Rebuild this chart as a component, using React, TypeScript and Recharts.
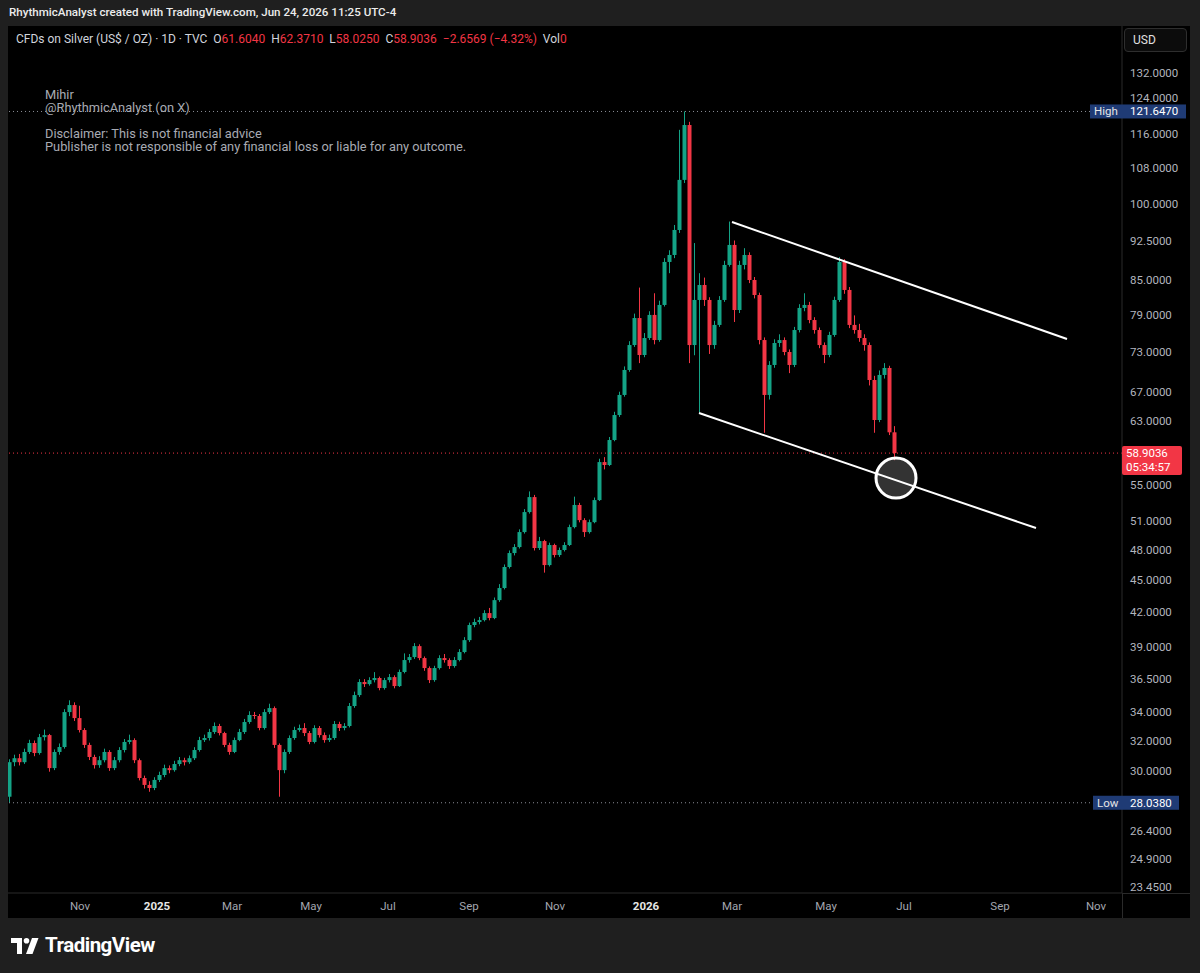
import React from 'react';
import { ComposedChart, Bar, XAxis, YAxis, ReferenceLine, ReferenceDot } from 'recharts';

// Silver CFD, roughly two trading days per candle, Oct 2024 -> Jun 24 2026
const firstOpen = 28.4;

const closes = [
    30.56, 30.82, 30.56, 31.23, 31.83, 31.16, 32.23, 32.37, 30.18, 31.23,
    31.56, 33.99, 34.5, 33.56, 32.72, 31.7, 30.9, 30.37, 30.69, 31.23,
    30.18, 30.69, 31.36, 31.9, 32.03, 30.69, 29.55, 29.12, 28.93, 29.43,
    29.74, 30.18, 30.05, 30.44, 30.69, 30.56, 30.82, 31.36, 32.03, 32.17,
    32.58, 33.0, 32.51, 31.7, 31.23, 32.03, 32.58, 33.28, 33.78, 33.71,
    32.86, 33.99, 34.28, 31.7, 30.05, 31.23, 32.17, 32.72, 32.86, 32.51,
    31.9, 32.86, 32.37, 32.03, 32.17, 33.14, 32.86, 33.0, 34.43, 35.24,
    36.23, 36.07, 36.38, 36.54, 35.77, 36.38, 36.61, 35.92, 37.01, 37.96,
    38.2, 39.1, 38.12, 37.32, 36.38, 37.32, 38.12, 37.96, 37.48, 37.96,
    38.61, 39.6, 40.89, 41.15, 41.32, 41.94, 41.5, 43.11, 44.23, 46.25,
    47.64, 48.25, 49.81, 51.97, 53.65, 48.15, 48.87, 46.44, 48.46, 47.44,
    47.95, 48.46, 50.34, 52.76, 51.09, 49.81, 50.87, 53.31, 57.79, 57.43,
    60.56, 63.86, 66.64, 70.27, 74.09, 78.46, 72.54, 75.2, 78.98, 74.88,
    80.67, 88.38, 89.7, 94.59, 105.2, 118.2, 74.09, 81.53, 84.16, 81.53,
    74.09, 77.32, 81.53, 87.82, 91.63, 79.81, 87.82, 89.7, 85.06, 82.39,
    74.88, 66.64, 71.02, 74.41, 74.88, 73.0, 71.02, 76.49, 80.16, 80.67,
    78.13, 76.49, 74.09, 72.54, 75.69, 81.53, 88.38, 83.28, 77.32, 76.49,
    75.2, 74.09, 68.79, 63.19, 69.53, 70.57, 61.56, 58.9036,
];

const highs = [
    30.75, 31.05, 31.1, 31.45, 32.05, 32.0, 32.45, 32.75, 32.45, 31.4,
    31.8, 34.2, 34.85, 34.7, 34.45, 32.85, 31.85, 31.05, 30.95, 31.45,
    31.35, 30.9, 31.55, 32.1, 32.4, 32.15, 30.8, 29.7, 29.35, 29.6,
    29.95, 30.4, 30.35, 30.65, 30.9, 30.85, 31.0, 31.55, 32.25, 32.4,
    32.8, 33.25, 33.15, 32.6, 31.85, 32.2, 32.8, 33.5, 34.05, 34.0,
    33.85, 34.2, 34.6, 34.4, 31.8, 31.4, 32.35, 32.95, 33.1, 33.2,
    32.65, 33.05, 33.0, 32.55, 32.4, 33.35, 33.3, 33.2, 34.65, 35.5,
    36.45, 36.45, 36.6, 37.0, 36.65, 36.55, 36.85, 36.75, 37.2, 38.5,
    38.45, 39.35, 39.25, 38.25, 37.45, 37.5, 38.35, 38.45, 38.1, 38.2,
    38.85, 39.85, 41.1, 41.45, 41.6, 42.2, 42.4, 43.35, 44.6, 46.5,
    47.9, 48.55, 50.1, 52.3, 54.3, 53.9, 49.3, 49.0, 48.7, 48.6,
    48.2, 48.75, 50.6, 53.7, 53.0, 51.3, 51.15, 53.6, 58.2, 58.4,
    60.95, 64.3, 67.1, 70.8, 74.7, 79.2, 83.7, 76.0, 79.6, 82.7,
    81.4, 89.1, 90.6, 95.6, 117.0, 121.647, 119.0, 92.0, 86.3, 85.5,
    82.0, 78.0, 82.2, 88.6, 96.3, 92.5, 88.6, 91.0, 90.2, 85.6,
    82.8, 75.3, 71.6, 75.0, 75.8, 75.3, 73.4, 77.0, 80.8, 82.7,
    81.2, 78.6, 76.9, 74.5, 76.2, 82.1, 89.3, 88.9, 83.8, 78.9,
    77.5, 75.8, 74.5, 69.4, 70.2, 71.3, 70.9, 62.371,
];

const lows = [
    28.04, 30.3, 30.35, 30.45, 31.1, 30.95, 31.05, 32.0, 29.95, 30.05,
    31.05, 31.45, 33.7, 33.35, 32.55, 31.5, 30.7, 30.15, 30.2, 30.55,
    30.0, 30.05, 30.55, 31.2, 31.75, 30.5, 29.4, 28.9, 28.7, 28.8,
    29.3, 29.6, 29.85, 29.95, 30.3, 30.35, 30.45, 30.7, 31.25, 31.9,
    32.0, 32.45, 32.35, 31.55, 31.05, 31.15, 31.95, 32.45, 33.15, 33.5,
    32.7, 32.75, 33.85, 31.5, 28.4, 29.85, 31.1, 32.05, 32.6, 32.3,
    31.75, 31.8, 32.2, 31.85, 31.9, 32.05, 32.65, 32.7, 32.9, 34.3,
    35.1, 35.85, 35.95, 36.2, 35.6, 35.65, 36.2, 35.75, 35.85, 36.9,
    37.75, 38.05, 37.95, 37.1, 36.15, 36.25, 37.2, 37.75, 37.25, 37.35,
    37.85, 38.5, 39.45, 40.7, 40.95, 41.2, 41.3, 41.4, 42.95, 44.1,
    46.1, 47.4, 48.1, 49.65, 51.8, 47.9, 47.95, 45.7, 46.3, 47.2,
    47.25, 47.8, 48.35, 50.2, 50.85, 49.3, 49.65, 50.75, 53.2, 56.9,
    57.3, 60.4, 63.6, 66.4, 70.0, 73.8, 71.3, 72.2, 74.9, 74.2,
    74.6, 80.4, 86.3, 89.1, 94.0, 104.5, 71.3, 72.5, 64.2, 80.5,
    72.7, 73.5, 77.0, 81.2, 87.5, 77.8, 79.3, 87.0, 84.5, 81.8,
    74.2, 61.5, 66.0, 70.6, 73.8, 72.5, 69.8, 70.7, 76.1, 79.6,
    77.6, 75.9, 73.6, 71.3, 72.2, 75.4, 81.2, 82.6, 76.8, 75.9,
    74.6, 73.2, 68.0, 61.5, 62.9, 69.0, 61.2, 58.025,
];

const priceTicks = [132, 124, 116, 108, 100, 92.5, 85, 79, 73, 67, 63, 55, 51, 48, 45, 42, 39, 36.5, 34, 32, 30, 26.4, 24.9, 23.45];
const highPrice = 121.647;
const lowPrice = 28.038;
const lastPrice = 58.9036;

// month labels sit on the candle index axis
const monthTicks = [14, 29.4, 44.4, 60.2, 75.6, 91.8, 109, 127.2, 144.4, 163.2, 178.8, 198, 217.2];
const monthLabels = ['Nov', '2025', 'Mar', 'May', 'Jul', 'Sep', 'Nov', '2026', 'Mar', 'May', 'Jul', 'Sep', 'Nov'];

// hand drawn channel + marker (candle index, price)
const upperChannel = [{ x: 144.4, y: 96.2 }, { x: 211.4, y: 75.05 }];
const lowerChannel = [{ x: 137.8, y: 64.13 }, { x: 205.2, y: 50.24 }];
const marker = { x: 177.2, y: 55.86 };

const UP = '#14a386';
const DOWN = '#f23645';
const NAVY = '#1f3b75';
const FONT = 'Roboto, "Noto Sans", sans-serif';

const data = closes.map((c, i) => ({
    i,
    o: i === 0 ? firstOpen : closes[i - 1],
    c,
    h: highs[i],
    l: lows[i],
    range: [lows[i], highs[i]],
}));

const Candle = (props: any) => {
    const { x, y, width, height, payload } = props;
    if (x == null || !payload) return null;
    const top0 = Math.min(y, y + height);
    const span = Math.abs(height);
    const { o, c, h, l } = payload;
    const lh = Math.log(h);
    const ll = Math.log(l);
    // position inside the high-low range, log axis
    const py = (p: number) => top0 + (lh - ll > 0 ? (span * (lh - Math.log(p))) / (lh - ll) : 0);
    const color = c >= o ? UP : DOWN;
    const cx = x + width / 2;
    const bt = py(Math.max(o, c));
    const bb = py(Math.min(o, c));
    return (
        <g>
            <line x1={cx} x2={cx} y1={top0} y2={top0 + span} stroke={color} strokeWidth={1} />
            <rect x={x} y={bt} width={width} height={Math.max(1, bb - bt)} fill={color} />
        </g>
    );
};

const PriceTick = (props: any) => {
    const { x, y, payload } = props;
    const v = payload.value;
    const txt = { fontFamily: FONT, fontSize: 11.5 };
    if (v === highPrice) {
        return (
            <g>
                <rect x={x - 40} y={y - 7} width={96} height={14} fill={NAVY} />
                <text x={x - 36} y={y + 4} fill="#e6e6e6" style={txt}>High</text>
                <text x={x} y={y + 4} fill="#ffffff" style={txt}>{v.toFixed(4)}</text>
            </g>
        );
    }
    if (v === lowPrice) {
        return (
            <g>
                <rect x={x - 37} y={y - 7} width={86} height={14} fill={NAVY} />
                <text x={x - 33} y={y + 4} fill="#e6e6e6" style={txt}>Low</text>
                <text x={x} y={y + 4} fill="#ffffff" style={txt}>{v.toFixed(4)}</text>
            </g>
        );
    }
    if (v === lastPrice) {
        return (
            <g>
                <rect x={x - 8} y={y - 7} width={60} height={29} rx={2} fill={DOWN} />
                <text x={x - 4} y={y + 4} fill="#ffffff" style={txt}>{v.toFixed(4)}</text>
                <text x={x - 4} y={y + 18} fill="#ffffff" style={txt}>05:34:57</text>
            </g>
        );
    }
    // 124 sits right above the High badge, lift it clear
    const lift = v === 124 ? -4 : 0;
    return (
        <text x={x} y={y + 4 + lift} fill="#b2b5be" style={txt}>{v.toFixed(4)}</text>
    );
};

const MonthTick = (props: any) => {
    const { x, y, payload } = props;
    const label = monthLabels[monthTicks.indexOf(payload.value)] ?? '';
    const isYear = /^\d{4}$/.test(label);
    return (
        <text
            x={x}
            y={y + 17}
            textAnchor="middle"
            fill={isYear ? '#e6e6e6' : '#a3a6af'}
            style={{ fontFamily: FONT, fontSize: 11.5, fontWeight: isYear ? 700 : 400 }}
        >
            {label}
        </text>
    );
};

const red = { color: '#f23645' };

export default function App() {
    return (
        <div
            style={{
                position: 'absolute',
                left: 0,
                top: 0,
                width: 1200,
                height: 973,
                background: '#1f1f1f',
                fontFamily: FONT,
                overflow: 'hidden',
            }}
        >
            <div style={{ position: 'absolute', left: 9, top: 4, fontSize: 11.6, fontWeight: 500, color: '#ececec', lineHeight: '16px' }}>
                RhythmicAnalyst created with TradingView.com, Jun 24, 2026 11:25 UTC-4
            </div>

            <div style={{ position: 'absolute', left: 8, top: 26, width: 1182, height: 892, background: '#000' }}>
                <ComposedChart width={1182} height={892} data={data} margin={{ top: 0, right: 0, bottom: 0, left: 0 }}>
                    <XAxis
                        dataKey="i"
                        type="number"
                        domain={[-0.4, 222.4]}
                        allowDataOverflow
                        ticks={monthTicks}
                        interval={0}
                        height={25}
                        tickSize={0}
                        tickMargin={0}
                        tick={<MonthTick />}
                        axisLine={{ stroke: '#2a2a2a' }}
                        tickLine={false}
                    />
                    <YAxis
                        orientation="right"
                        scale="log"
                        type="number"
                        domain={[23.15, 145.85]}
                        allowDataOverflow
                        ticks={[...priceTicks, lastPrice, highPrice, lowPrice]}
                        interval={0}
                        width={68}
                        tickSize={0}
                        tickMargin={8}
                        tick={<PriceTick />}
                        axisLine={{ stroke: '#2a2a2a' }}
                        tickLine={false}
                    />
                    <ReferenceLine y={highPrice} stroke="#8a8d96" strokeDasharray="1 3" />
                    <ReferenceLine y={lowPrice} stroke="#8a8d96" strokeDasharray="1 3" />
                    <ReferenceLine y={lastPrice} stroke={DOWN} strokeDasharray="1 3" />
                    <Bar dataKey="range" barSize={4} shape={<Candle />} isAnimationActive={false} />
                    <ReferenceLine segment={upperChannel} stroke="#ffffff" strokeWidth={2} ifOverflow="visible" />
                    <ReferenceLine segment={lowerChannel} stroke="#ffffff" strokeWidth={2} ifOverflow="visible" />
                    <ReferenceDot
                        x={marker.x}
                        y={marker.y}
                        r={20}
                        fill="rgba(255,255,255,0.2)"
                        stroke="#ffffff"
                        strokeWidth={3}
                        ifOverflow="visible"
                    />
                </ComposedChart>

                {/* axis corner separators */}
                <div style={{ position: 'absolute', left: 1114, top: 867, width: 1, height: 25, background: '#2a2a2a' }} />
                <div style={{ position: 'absolute', left: 1114, top: 867, width: 68, height: 1, background: '#2a2a2a' }} />

                <div
                    style={{
                        position: 'absolute',
                        left: 1116,
                        top: 2,
                        width: 53,
                        height: 22,
                        border: '1px solid #2e2e2e',
                        borderRadius: 4,
                        background: '#0c0c0c',
                        color: '#e0e0e0',
                        fontSize: 12,
                        lineHeight: '22px',
                        paddingLeft: 8,
                        boxSizing: 'content-box',
                    }}
                >
                    USD
                </div>

                <div style={{ position: 'absolute', left: 8, top: 6, fontSize: 12, color: '#d1d4dc', lineHeight: '15px', whiteSpace: 'nowrap' }}>
                    CFDs on Silver (US$ / OZ) · 1D · TVC&nbsp;&nbsp;O<span style={red}>61.6040</span>&nbsp;&nbsp;H
                    <span style={red}>62.3710</span>&nbsp;&nbsp;L<span style={red}>58.0250</span>&nbsp;&nbsp;C
                    <span style={red}>58.9036</span>&nbsp;&nbsp;<span style={red}>−2.6569 (−4.32%)</span>&nbsp;&nbsp;Vol
                    <span style={red}>0</span>
                </div>

                <div style={{ position: 'absolute', left: 37, top: 62, fontSize: 12.8, color: '#a8abb3', lineHeight: '13px', whiteSpace: 'nowrap' }}>
                    <div>Mihir</div>
                    <div>@RhythmicAnalyst (on X)</div>
                    <div>&nbsp;</div>
                    <div>Disclaimer: This is not financial advice</div>
                    <div>Publisher is not responsible of any financial loss or liable for any outcome.</div>
                </div>
            </div>

            {/* TradingView logo */}
            <svg style={{ position: 'absolute', left: 11, top: 938 }} width={28} height={16} viewBox="0 0 28 16">
                <path d="M0 0 H11 V16 H6 V5 H0 Z" fill="#ffffff" />
                <circle cx={15.5} cy={2.8} r={2.8} fill="#ffffff" />
                <path d="M21 0 H27.5 L21.5 16 H15 Z" fill="#ffffff" />
            </svg>
            <div style={{ position: 'absolute', left: 45, top: 933, fontSize: 20.5, fontWeight: 700, color: '#ffffff', letterSpacing: -0.5, lineHeight: '24px' }}>
                TradingView
            </div>
        </div>
    );
}
